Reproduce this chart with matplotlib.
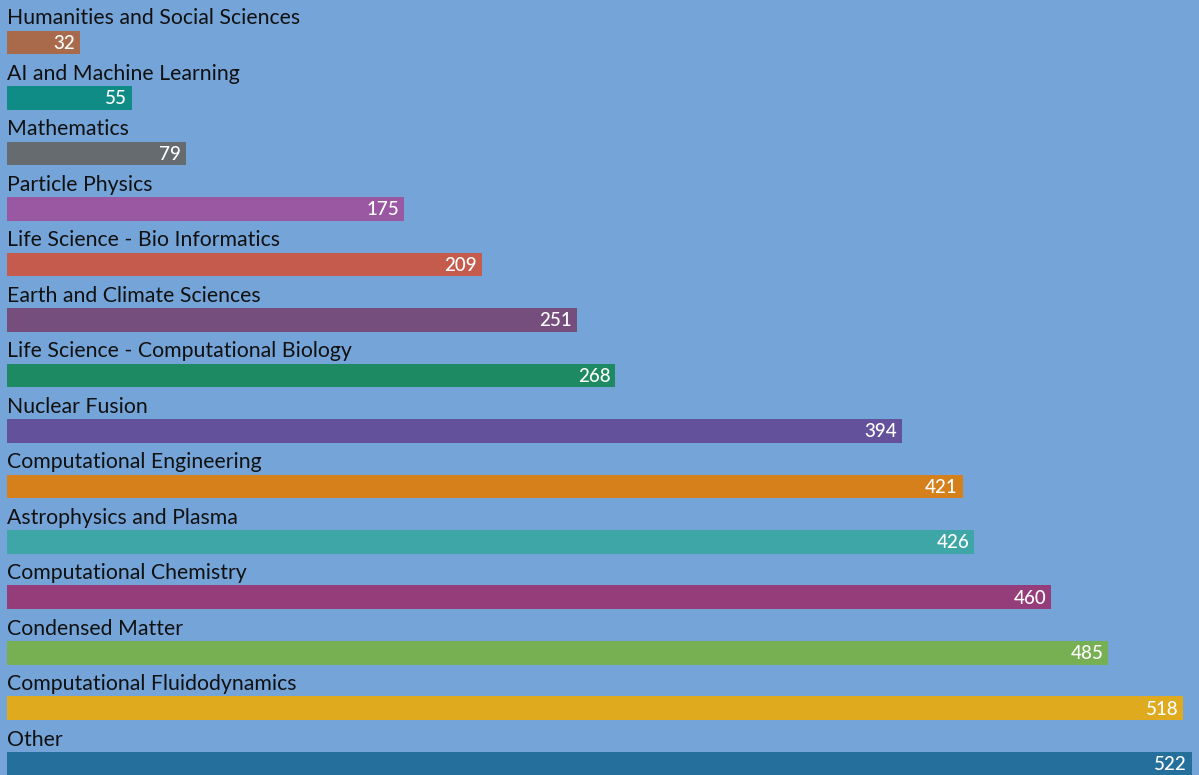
import matplotlib.pyplot as plt
import matplotlib.transforms as mtransforms

# Données
categories = [
    "Humanities and Social Sciences",
    "AI and Machine Learning",
    "Mathematics",
    "Particle Physics",
    "Life Science - Bio Informatics",
    "Earth and Climate Sciences",
    "Life Science - Computational Biology",
    "Nuclear Fusion",
    "Computational Engineering",
    "Astrophysics and Plasma",
    "Computational Chemistry",
    "Condensed Matter",
    "Computational Fluidodynamics",
    "Other",
]
valeurs = [32, 55, 79, 175, 209, 251, 268, 394, 421, 426, 460, 485, 518, 522]
couleurs = [
    "#A86A4A", "#0E8C85", "#666B6F", "#9A58A3", "#C55B4D", "#764E7D",
    "#1D8A64", "#63519B", "#D6801C", "#3FA6A8", "#953C7A", "#76B053",
    "#E0AA1F", "#246F9B",
]

FOND = "#74A4D8"
plt.rcParams['font.family'] = ['Lato', 'DejaVu Sans']

fig = plt.figure(figsize=(11.99, 7.75), dpi=100)
fig.patch.set_facecolor(FOND)
ax = fig.add_axes([0, 0, 1, 1])
ax.set_facecolor(FOND)

positions = list(range(len(categories)))
ax.barh(positions, valeurs, height=0.43, color=couleurs, left=0)

# Décalages en pixels pour les textes
decal_val = mtransforms.offset_copy(ax.transData, fig=fig, x=-5, y=0, units='dots')
for i, (cat, v) in enumerate(zip(categories, valeurs)):
    ax.text(0, i - 0.33, cat, ha='left', va='baseline', fontsize=15.3, color='#111111')
    ax.text(v, i + 0.11, str(v), ha='right', va='baseline', fontsize=13.5,
            color='white', fontweight='medium', transform=decal_val)

ax.set_xlim(-3.08, 525.0)
ax.set_ylim(13.2, -0.766)
ax.axis('off')

fig.savefig("out.png", dpi=100, facecolor=FOND)
